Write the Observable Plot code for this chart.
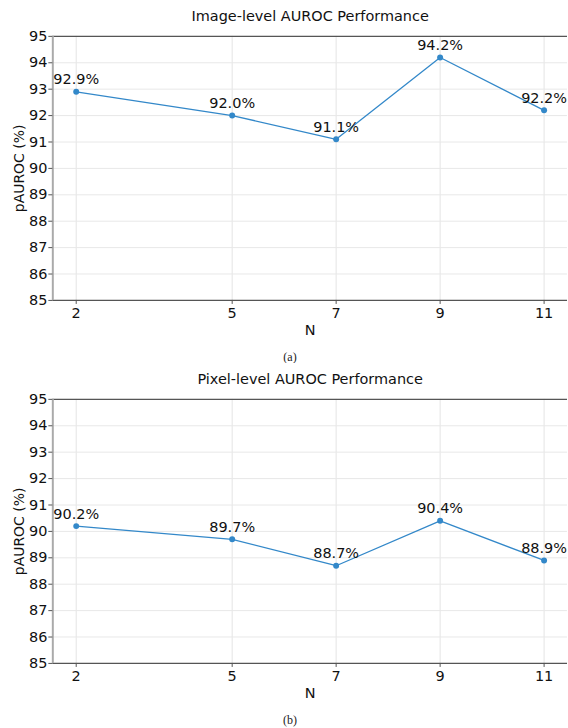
<!DOCTYPE html>
<html>
<head>
<meta charset="utf-8">
<script src="https://cdn.jsdelivr.net/npm/d3@7"></script>
<script src="https://cdn.jsdelivr.net/npm/@observablehq/plot@0.6"></script>
<style>
  html, body { margin: 0; padding: 0; background: white; }
  #wrap { position: relative; width: 568px; height: 728px; overflow: hidden; background: white; }
  #wrap svg g[aria-label="x-axis tick label"], #wrap svg g[aria-label="y-axis tick label"] { font-size: 14.5px; }
  #wrap svg g[aria-label="y-axis label"] { font-size: 14px; }
  .cap { position: absolute; left: 0; width: 580px; text-align: center; font-family: "Liberation Serif", "DejaVu Serif", serif; font-size: 12px; color: #222; line-height: 14px; }
  .sep { position: absolute; left: 6px; width: 570px; height: 0; }
</style>
</head>
<body>
<div id="wrap"></div>
<script>
const nValues = [2, 5, 7, 9, 11];
const imageAuroc = [92.9, 92.0, 91.1, 94.2, 92.2];
const pixelAuroc = [90.2, 89.7, 88.7, 90.4, 88.9];
const yTicks = [85, 86, 87, 88, 89, 90, 91, 92, 93, 94, 95];
const panelTitles = ["Image-level AUROC Performance", "Pixel-level AUROC Performance"];
const captions = ["(a)", "(b)"];
const yLabel = "pAUROC (%)";
const xLabel = "N";
const lineColor = "#3388c9";
const xDomain = [1.55, 11.45];

function panel(title, values) {
  const data = nValues.map((n, i) => ({n, v: values[i]}));
  return Plot.plot({
    width: 570,
    height: 345,
    marginTop: 36,
    marginBottom: 44,
    marginLeft: 52.5,
    marginRight: 1,
    style: {fontFamily: "DejaVu Sans", fontSize: "14px", background: "white", overflow: "visible", color: "#111"},
    x: {type: "linear", domain: xDomain},
    y: {domain: [yTicks[0], yTicks[yTicks.length - 1]]},
    marks: [
      Plot.gridX(nValues, {stroke: "#e4e4e4", strokeOpacity: 1, strokeWidth: 1}),
      Plot.gridY(yTicks, {stroke: "#e8e8e8", strokeOpacity: 1, strokeWidth: 1}),
      Plot.ruleY([yTicks[0]], {stroke: "#555", strokeWidth: 1.3}),
      Plot.ruleY([yTicks[yTicks.length - 1]], {stroke: "#555", strokeWidth: 1.3}),
      Plot.ruleX([xDomain[0]], {stroke: "#aaa", strokeWidth: 2}),
      Plot.axisX(nValues, {tickSize: 4, tickPadding: 3, fontSize: 14.5, label: null, tickFormat: d => String(d), stroke: "#555", fill: "#111"}),
      Plot.axisY(yTicks, {tickSize: 4, tickPadding: 1.5, fontSize: 14.5, tickFormat: d => String(d), stroke: "#555", fill: "#111",
        label: yLabel, labelAnchor: "center", labelArrow: "none", labelOffset: 38.5}),
      Plot.text([title], {frameAnchor: "top", dy: -20, lineAnchor: "middle", fontSize: 14.5, fill: "#111"}),
      Plot.text([xLabel], {frameAnchor: "bottom", dy: 30, lineAnchor: "middle", fontSize: 14.5, fill: "#111"}),
      Plot.line(data, {x: "n", y: "v", stroke: lineColor, strokeWidth: 1.3}),
      Plot.dot(data, {x: "n", y: "v", r: 3, fill: lineColor, stroke: "none"}),
      Plot.text(data, {x: "n", y: "v", text: d => d.v.toFixed(1) + "%", dy: -7.5, lineAnchor: "bottom", fontSize: 14.5, fill: "#111"})
    ]
  });
}

const wrap = document.getElementById("wrap");
const series = [imageAuroc, pixelAuroc];
const offsets = [0, 363];
series.forEach((vals, i) => {
  const svg = panel(panelTitles[i], vals);
  svg.style.position = "absolute";
  svg.style.left = "0px";
  svg.style.top = offsets[i] + "px";
  wrap.appendChild(svg);
  const cap = document.createElement("div");
  cap.className = "cap";
  cap.textContent = captions[i];
  cap.style.top = (offsets[i] + 350) + "px";
  wrap.appendChild(cap);
  const sep = document.createElement("div");
  sep.className = "sep";
  sep.style.top = (offsets[i] + 366) + "px";
  sep.style.borderTop = i === 0 ? "1px solid #d8d8d8" : "1px solid #ececec";
  wrap.appendChild(sep);
});
</script>
</body>
</html>
